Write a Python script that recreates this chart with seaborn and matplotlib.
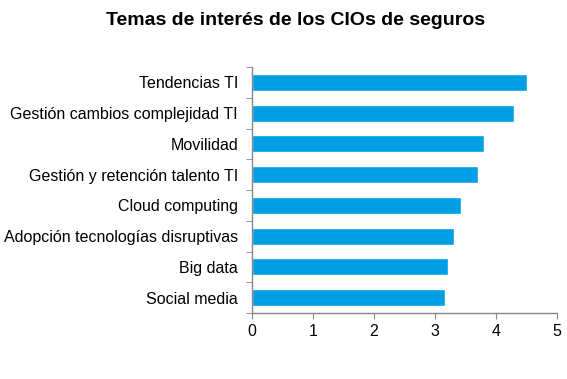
import pandas as pd
import seaborn as sns
import matplotlib.pyplot as plt

# Data
temas = [
    "Tendencias TI",
    "Gestión cambios complejidad TI",
    "Movilidad",
    "Gestión y retención talento TI",
    "Cloud computing",
    "Adopción tecnologías disruptivas",
    "Big data",
    "Social media",
]
puntuacion = [4.50, 4.30, 3.80, 3.71, 3.42, 3.31, 3.21, 3.16]

df = pd.DataFrame({"Tema": temas, "Puntuacion": puntuacion})

sns.set_style("white")
plt.rcParams["font.family"] = ["Liberation Sans", "DejaVu Sans"]

fig = plt.figure(figsize=(5.67, 3.79), dpi=100)
ax = fig.add_axes([0.4444, 0.1741, 0.5380, 0.6491])

sns.barplot(data=df, x="Puntuacion", y="Tema", color="#009FE3",
            saturation=1, width=0.55, ax=ax)

ax.set_xlim(0, 5)
ax.set_ylim(7.5, -0.5)
ax.set_xticks(range(0, 6))
ax.set_xlabel("")
ax.set_ylabel("")

# Excel-like axis: tick marks between categories
ax.set_yticks([i + 0.5 for i in range(-1, len(temas))], minor=True)
ax.tick_params(axis="y", which="major", length=0, labelsize=11.5, pad=10,
               labelcolor="black")
ax.tick_params(axis="y", which="minor", length=4, color="#868686",
               direction="out", left=True)
ax.tick_params(axis="x", length=4, color="#868686", direction="out",
               bottom=True, labelsize=11.5, pad=4, labelcolor="black")

for side in ["top", "right"]:
    ax.spines[side].set_visible(False)
for side in ["left", "bottom"]:
    ax.spines[side].set_color("#868686")
    ax.spines[side].set_linewidth(1)

fig.text(0.521, 0.945, "Temas de interés de los CIOs de seguros",
         ha="center", va="center", fontsize=14, fontweight="bold",
         color="black")

plt.savefig("out.png", dpi=100)
